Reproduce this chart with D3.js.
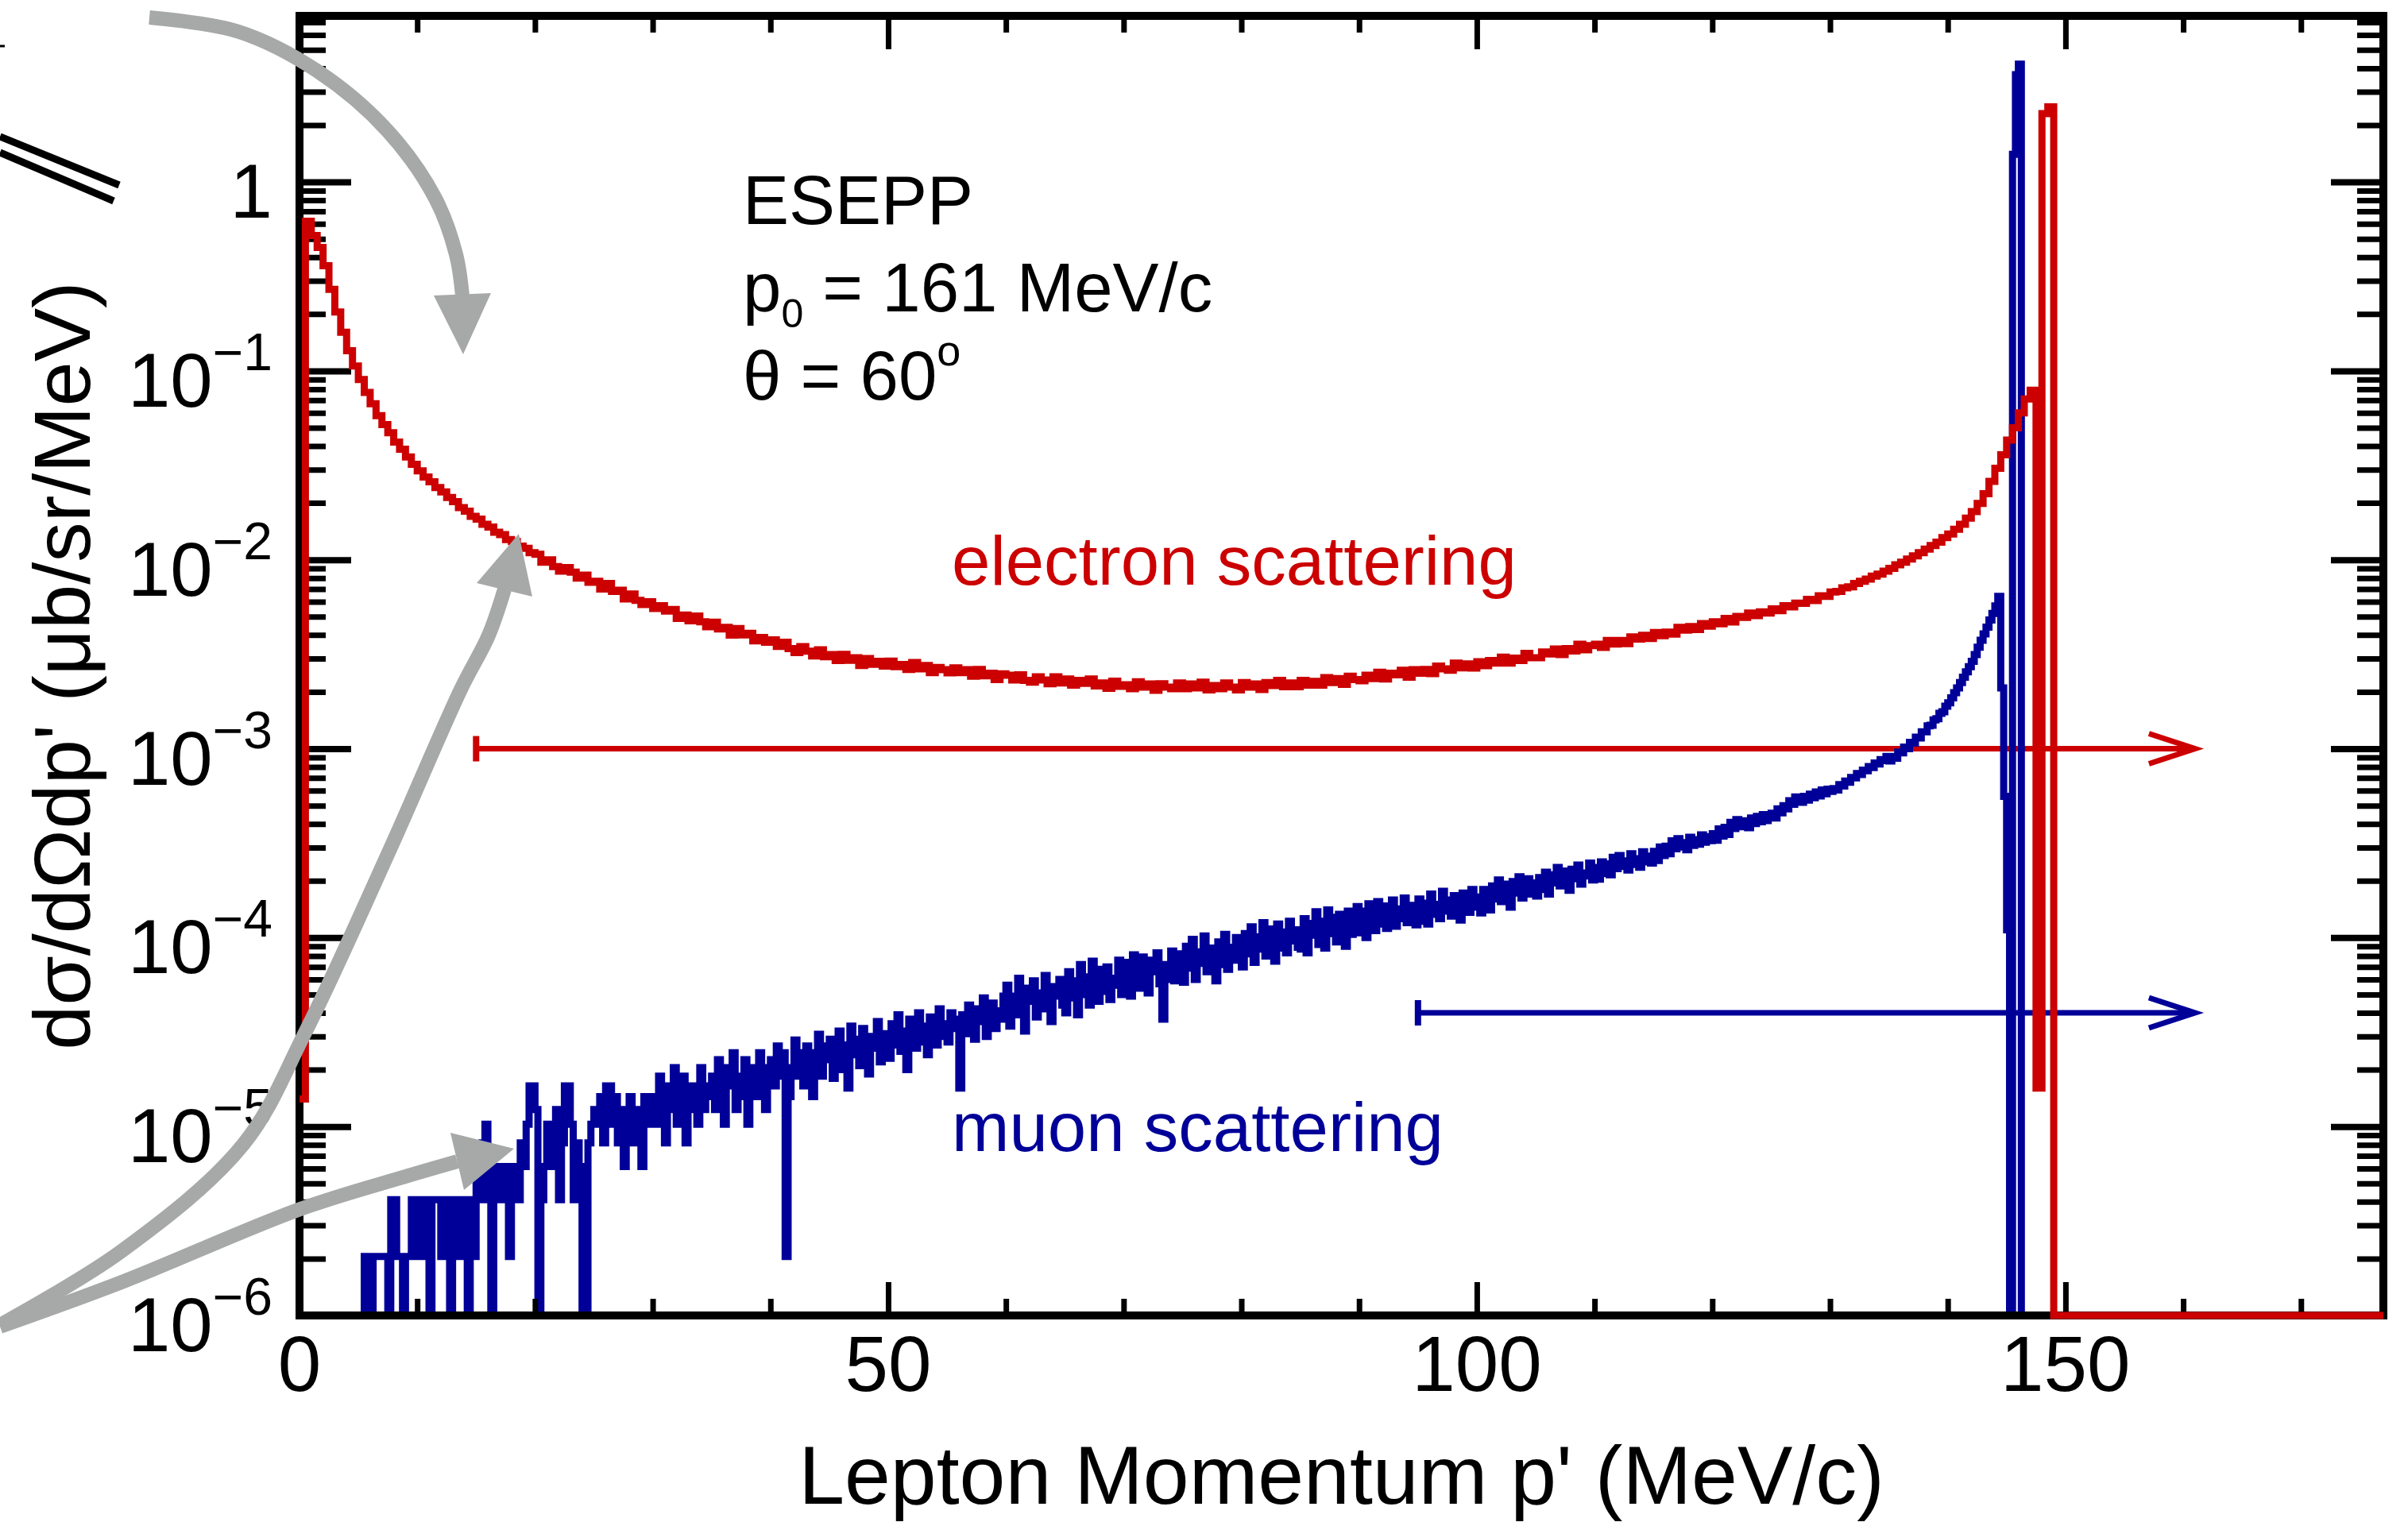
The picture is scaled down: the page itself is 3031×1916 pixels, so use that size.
<!DOCTYPE html>
<html>
<head>
<meta charset="utf-8">
<script src="https://cdnjs.cloudflare.com/ajax/libs/d3/7.8.5/d3.min.js"></script>
<style>
  html, body { margin: 0; padding: 0; background: #ffffff; }
  svg { display: block; }
  text { font-family: "Liberation Sans", Arial, Helvetica, sans-serif; }
</style>
</head>
<body>
<svg id="chart" width="3031" height="1916"></svg>
<script>
// ---- Histogram binning (MeV/c) ----
const binStart = 0;
const electronBinWidth = 0.5;
const muonBinWidth = 0.25;

// dσ/dΩdp' per 0.5 MeV/c bin, electron scattering (μb/sr/MeV)
const electronRate = [
  1.4e-5, 0.62, 0.52, 0.45, 0.36, 0.27, 0.205, 0.16, 0.128, 0.106,
  0.090, 0.077, 0.067, 0.058, 0.052, 0.047, 0.042, 0.0385, 0.035, 0.032,
  0.0296, 0.0274, 0.0259, 0.0241, 0.0229, 0.0214, 0.0203, 0.0189, 0.0181, 0.0170,
  0.0164, 0.0154, 0.0149, 0.0140, 0.0136, 0.0128, 0.0125, 0.0118, 0.0115, 0.0109,
  0.0107, 0.0097, 0.0100, 0.0092, 0.0087, 0.0091, 0.0086, 0.0080, 0.0083, 0.0076,
  0.0077, 0.0070, 0.0075, 0.0068, 0.0069, 0.0062, 0.0066, 0.0061, 0.0058, 0.0060,
  0.00553, 0.00572, 0.00535, 0.00546, 0.0049, 0.0051, 0.00475, 0.00504, 0.0047, 0.00442,
  0.00468, 0.00431, 0.00439, 0.00399, 0.00433, 0.0040, 0.00408, 0.00372, 0.00388, 0.00366,
  0.00377, 0.00348, 0.00366, 0.00339, 0.00323, 0.00347, 0.00328, 0.0031, 0.00334, 0.00307,
  0.00315, 0.00293, 0.00316, 0.00294, 0.00303, 0.00276, 0.0030, 0.0028, 0.0029, 0.00274,
  0.00291, 0.00272, 0.00279, 0.00263, 0.00286, 0.00265, 0.00276, 0.00253, 0.00269, 0.00262,
  0.00252, 0.00268, 0.00253, 0.00262, 0.00242, 0.00263, 0.00243, 0.00251, 0.00232, 0.00249,
  0.00245, 0.00231, 0.00246, 0.0023, 0.00225, 0.0024, 0.00231, 0.00221, 0.0024, 0.00223,
  0.00234, 0.00217, 0.0023, 0.00222, 0.00234, 0.00215, 0.00223, 0.00209, 0.00228, 0.00214,
  0.00218, 0.00208, 0.00226, 0.00212, 0.0022, 0.00204, 0.00221, 0.00212, 0.00208, 0.00223,
  0.00208, 0.0022, 0.0021, 0.00225, 0.00205, 0.00216, 0.00208, 0.00223, 0.00212, 0.00205,
  0.00224, 0.00212, 0.0022, 0.00206, 0.00224, 0.00216, 0.0023, 0.00213, 0.00223, 0.00213,
  0.0023, 0.00217, 0.00227, 0.00217, 0.00238, 0.00224, 0.00235, 0.00219, 0.00242, 0.00232,
  0.00229, 0.00245, 0.00235, 0.00254, 0.00234, 0.00251, 0.00246, 0.0026, 0.00239, 0.00262,
  0.00251, 0.00263, 0.0025, 0.00274, 0.00265, 0.0026, 0.00284, 0.00268, 0.00281, 0.00267,
  0.00289, 0.00275, 0.00293, 0.00284, 0.00305, 0.00284, 0.00302, 0.00293, 0.0032, 0.00303,
  0.00303, 0.00325, 0.00317, 0.00337, 0.00315, 0.00339, 0.00329, 0.00357, 0.00334, 0.00351,
  0.00357, 0.00344, 0.00374, 0.00358, 0.00374, 0.0036, 0.00391, 0.00381, 0.00398, 0.00383,
  0.00412, 0.00397, 0.00414, 0.00404, 0.00439, 0.00424, 0.00443, 0.00427, 0.0046, 0.00445,
  0.0047, 0.00459, 0.0049, 0.00469, 0.00502, 0.00495, 0.00523, 0.00506, 0.0053, 0.00523,
  0.0055, 0.00538, 0.00572, 0.00563, 0.0059, 0.00588, 0.00618, 0.00608, 0.00645, 0.0064,
  0.00675, 0.0068, 0.0071, 0.0072, 0.0075, 0.0077, 0.0079, 0.0082, 0.0084, 0.0087,
  0.0090, 0.0094, 0.0097, 0.0101, 0.0105, 0.0109, 0.0114, 0.0119, 0.0124, 0.0131,
  0.0137, 0.0145, 0.0154, 0.0166, 0.0180, 0.0199, 0.0224, 0.0260, 0.0305, 0.0360,
  0.043, 0.050, 0.060, 0.071, 0.079, 1.6e-5, 2.3, 2.5, 0, 0,
  0, 0, 0, 0, 0, 0, 0, 0, 0, 0,
  0, 0, 0, 0, 0, 0, 0, 0, 0, 0,
  0, 0, 0, 0, 0, 0, 0, 0, 0, 0,
  0, 0, 0, 0, 0, 0, 0, 0, 0, 0,
  0, 0, 0, 0, 0, 0, 0, 0, 0, 0,
  0, 0, 0, 0
];

// dσ/dΩdp' per 0.25 MeV/c bin, muon scattering (μb/sr/MeV); one row = 5 MeV/c
const muonRate = [
  0, 0, 0, 0, 0, 0, 0, 0, 0, 0, 0, 0, 0, 0, 0, 0, 0, 0, 0, 0,
  0, 0, 2.05e-6, 2.05e-6, 0, 2.05e-6, 2.05e-6, 2.05e-6, 2.05e-6, 2.05e-6, 0, 4.1e-6, 4.1e-6, 2.05e-6, 2.05e-6, 0, 2.05e-6, 2.05e-6, 4.1e-6, 2.05e-6,
  2.05e-6, 4.1e-6, 4.1e-6, 2.05e-6, 0, 4.1e-6, 4.1e-6, 4.1e-6, 2.05e-6, 4.1e-6, 2.05e-6, 0, 4.1e-6, 2.05e-6, 4.1e-6, 4.1e-6, 2.05e-6, 0, 4.1e-6, 2.05e-6,
  6.15e-6, 4.1e-6, 8.2e-6, 1.03e-5, 4.1e-6, 0, 6.15e-6, 4.1e-6, 6.15e-6, 4.1e-6, 6.15e-6, 2.05e-6, 4.1e-6, 6.15e-6, 4.1e-6, 8.2e-6, 6.15e-6, 1.03e-5, 1.64e-5, 1.64e-5,
  1.23e-5, 0, 4.1e-6, 6.15e-6, 1.03e-5, 8.2e-6, 6.15e-6, 1.23e-5, 4.1e-6, 8.2e-6, 1.64e-5, 1.64e-5, 1.03e-5, 4.1e-6, 8.2e-6, 6.15e-6, 0, 0, 8.2e-6, 1.03e-5,
  1.23e-5, 1.03e-5, 1.44e-5, 8.2e-6, 1.64e-5, 1.64e-5, 1.03e-5, 1.44e-5, 8.2e-6, 1.23e-5, 6.15e-6, 1.03e-5, 1.44e-5, 8.2e-6, 1.03e-5, 1.23e-5, 6.15e-6, 1.44e-5, 1.03e-5, 1.23e-5,
  1.44e-5, 1.03e-5, 1.85e-5, 1.23e-5, 8.2e-6, 1.64e-5, 1.23e-5, 2.05e-5, 1.03e-5, 1.44e-5, 1.85e-5, 8.2e-6, 1.23e-5, 1.64e-5, 1.44e-5, 1.03e-5, 2.05e-5, 1.23e-5, 1.64e-5, 1.44e-5,
  1.85e-5, 1.23e-5, 2.26e-5, 1.44e-5, 1.03e-5, 2.05e-5, 1.64e-5, 2.46e-5, 1.23e-5, 1.85e-5, 1.44e-5, 2.26e-5, 1.03e-5, 1.64e-5, 2.05e-5, 1.44e-5, 2.46e-5, 1.64e-5, 1.23e-5, 2.05e-5,
  2.26e-5, 1.64e-5, 2.67e-5, 1.85e-5, 2.46e-5, 2.05e-6, 1.44e-5, 2.05e-5, 2.87e-5, 1.85e-5, 2.46e-5, 1.64e-5, 2.67e-5, 2.05e-5, 1.44e-5, 2.46e-5, 3.08e-5, 1.85e-5, 2.26e-5, 2.67e-5,
  2.9e-5, 1.8e-5, 2.6e-5, 3.2e-5, 2.0e-5, 2.7e-5, 1.6e-5, 3.4e-5, 2.4e-5, 2.9e-5, 2.1e-5, 3.3e-5, 2.5e-5, 1.9e-5, 3.0e-5, 2.6e-5, 3.6e-5, 2.2e-5, 2.8e-5, 3.1e-5,
  2.3e-5, 3.5e-5, 2.7e-5, 3.9e-5, 2.5e-5, 3.2e-5, 2.0e-5, 3.7e-5, 3.0e-5, 2.6e-5, 4.0e-5, 2.8e-5, 3.4e-5, 2.4e-5, 3.8e-5, 3.1e-5, 2.7e-5, 4.2e-5, 3.0e-5, 3.5e-5,
  2.8e-5, 4.0e-5, 3.3e-5, 3.7e-5, 1.6e-5, 3.9e-5, 3.1e-5, 4.4e-5, 3.5e-5, 2.9e-5, 4.2e-5, 3.6e-5, 4.8e-5, 3.0e-5, 3.9e-5, 4.5e-5, 3.3e-5, 4.1e-5, 3.7e-5, 4.9e-5,
  5.6e-5, 3.4e-5, 4.9e-5, 3.9e-5, 6.1e-5, 4.4e-5, 3.2e-5, 5.4e-5, 4.6e-5, 5.9e-5, 3.8e-5, 5.1e-5, 4.2e-5, 6.3e-5, 4.7e-5, 3.6e-5, 5.5e-5, 4.9e-5, 6.0e-5, 4.4e-5,
  4.0e-5, 6.6e-5, 4.8e-5, 5.9e-5, 3.9e-5, 7.2e-5, 5.0e-5, 6.2e-5, 4.4e-5, 7.5e-5, 5.4e-5, 4.6e-5, 6.8e-5, 5.2e-5, 7.0e-5, 4.7e-5, 6.1e-5, 5.6e-5, 7.6e-5, 5.0e-5,
  5.3e-5, 7.4e-5, 4.9e-5, 8.1e-5, 6.5e-5, 5.4e-5, 7.9e-5, 6.2e-5, 5.1e-5, 7.6e-5, 6.6e-5, 8.3e-5, 5.7e-5, 3.7e-5, 7.2e-5, 6.0e-5, 8.5e-5, 5.9e-5, 7.0e-5, 8.2e-5,
  5.8e-5, 9.0e-5, 6.9e-5, 9.8e-5, 6.0e-5, 8.4e-5, 7.3e-5, 1.02e-4, 6.6e-5, 8.8e-5, 7.7e-5, 5.9e-5, 9.5e-5, 7.2e-5, 1.04e-4, 6.8e-5, 8.9e-5, 7.6e-5, 1.0e-4, 7.9e-5,
  7.0e-5, 1.05e-4, 8.2e-5, 1.14e-4, 7.4e-5, 1.01e-4, 8.7e-5, 1.2e-4, 8.0e-5, 1.11e-4, 9.3e-5, 7.5e-5, 1.18e-4, 8.8e-5, 1.07e-4, 8.3e-5, 1.22e-4, 9.6e-5, 1.1e-4, 8.9e-5,
  8.7e-5, 1.26e-4, 8.3e-5, 1.19e-4, 1.03e-4, 1.37e-4, 9.2e-5, 1.22e-4, 8.8e-5, 1.40e-4, 1.05e-4, 1.28e-4, 9.5e-5, 1.33e-4, 1.10e-4, 9.0e-5, 1.38e-4, 1.04e-4, 1.25e-4, 1.46e-4,
  1.06e-4, 1.38e-4, 1.00e-4, 1.51e-4, 1.20e-4, 1.09e-4, 1.55e-4, 1.18e-4, 1.47e-4, 1.12e-4, 1.32e-4, 1.58e-4, 1.15e-4, 1.42e-4, 1.26e-4, 1.62e-4, 1.20e-4, 1.48e-4, 1.30e-4, 1.17e-4,
  1.60e-4, 1.22e-4, 1.52e-4, 1.18e-4, 1.70e-4, 1.33e-4, 1.50e-4, 1.26e-4, 1.76e-4, 1.38e-4, 1.58e-4, 1.30e-4, 1.67e-4, 1.42e-4, 1.24e-4, 1.72e-4, 1.48e-4, 1.36e-4, 1.80e-4, 1.45e-4,
  1.64e-4, 1.35e-4, 1.80e-4, 1.47e-4, 1.40e-4, 1.88e-4, 1.60e-4, 2.02e-4, 1.55e-4, 1.92e-4, 1.66e-4, 1.45e-4, 1.98e-4, 1.72e-4, 2.10e-4, 1.62e-4, 1.85e-4, 2.05e-4, 1.70e-4, 1.95e-4,
  1.66e-4, 2.08e-4, 1.80e-4, 2.22e-4, 1.70e-4, 2.15e-4, 1.95e-4, 2.35e-4, 1.88e-4, 2.25e-4, 2.02e-4, 1.78e-4, 2.30e-4, 2.05e-4, 2.42e-4, 1.92e-4, 2.20e-4, 2.12e-4, 2.48e-4, 2.02e-4,
  2.35e-4, 2.04e-4, 2.52e-4, 2.18e-4, 2.46e-4, 2.15e-4, 2.66e-4, 2.32e-4, 2.72e-4, 2.38e-4, 2.55e-4, 2.28e-4, 2.78e-4, 2.44e-4, 2.62e-4, 2.36e-4, 2.85e-4, 2.52e-4, 2.70e-4, 2.48e-4,
  2.86e-4, 2.56e-4, 3.02e-4, 2.72e-4, 3.05e-4, 2.78e-4, 3.25e-4, 2.95e-4, 3.34e-4, 3.02e-4, 3.18e-4, 2.92e-4, 3.40e-4, 3.08e-4, 3.30e-4, 3.12e-4, 3.50e-4, 3.20e-4, 3.42e-4, 3.26e-4,
  3.55e-4, 3.28e-4, 3.76e-4, 3.45e-4, 3.84e-4, 3.52e-4, 4.08e-4, 3.78e-4, 4.22e-4, 3.92e-4, 3.86e-4, 4.15e-4, 3.82e-4, 4.30e-4, 4.02e-4, 4.38e-4, 4.10e-4, 4.48e-4, 4.16e-4, 4.40e-4,
  4.55e-4, 4.30e-4, 4.80e-4, 4.58e-4, 5.00e-4, 4.80e-4, 5.30e-4, 5.08e-4, 5.55e-4, 5.40e-4, 5.20e-4, 5.60e-4, 5.35e-4, 5.75e-4, 5.50e-4, 5.90e-4, 5.62e-4, 6.05e-4, 5.78e-4, 6.10e-4,
  5.95e-4, 6.15e-4, 6.05e-4, 6.45e-4, 6.35e-4, 6.75e-4, 6.65e-4, 7.05e-4, 7.0e-4, 7.4e-4, 7.3e-4, 7.7e-4, 7.65e-4, 8.05e-4, 7.95e-4, 8.4e-4, 8.3e-4, 8.75e-4, 8.65e-4, 9.1e-4,
  8.6e-4, 9.1e-4, 8.9e-4, 9.6e-4, 9.5e-4, 1.02e-3, 1.0e-3, 1.08e-3, 1.07e-3, 1.15e-3, 1.14e-3, 1.23e-3, 1.23e-3, 1.32e-3, 1.33e-3, 1.42e-3, 1.44e-3, 1.54e-3, 1.57e-3, 1.68e-3,
  1.75e-3, 1.86e-3, 1.98e-3, 2.1e-3, 2.24e-3, 2.39e-3, 2.55e-3, 2.72e-3, 2.9e-3, 3.15e-3, 3.45e-3, 3.75e-3, 4.05e-3, 4.4e-3, 4.8e-3, 5.2e-3, 5.7e-3, 6.4e-3, 2.1e-3, 5.6e-4,
  1.1e-4, 0, 1.4, 3.7, 4.2, 0, 0, 0, 0, 0, 0, 0, 0, 0, 0, 0, 0, 0, 0, 0,
  0, 0, 0, 0, 0, 0, 0, 0, 0, 0, 0, 0, 0, 0, 0, 0, 0, 0, 0, 0,
  0, 0, 0, 0, 0, 0, 0, 0, 0, 0, 0, 0, 0, 0, 0, 0, 0, 0, 0, 0,
  0, 0, 0, 0, 0, 0, 0, 0, 0, 0, 0, 0, 0, 0, 0, 0, 0, 0, 0, 0,
  0, 0, 0, 0, 0, 0, 0, 0, 0, 0, 0, 0, 0, 0, 0, 0, 0, 0, 0, 0,
  0, 0, 0, 0, 0, 0, 0, 0, 0, 0, 0, 0, 0, 0, 0, 0, 0, 0, 0, 0,
  0, 0, 0, 0, 0, 0, 0, 0
];

// ---- Axes ----
const xDomain = [0, 177];
const yDomain = [1e-6, 7.57];
const xMajorTicks = [0, 50, 100, 150];
const xMinorTicks = [10, 20, 30, 40, 60, 70, 80, 90, 110, 120, 130, 140, 160, 170];
const yDecadeExponents = [0, -1, -2, -3, -4, -5, -6];
const yMinorMantissas = [2, 3, 4, 5, 6, 7, 8, 9];

// ---- Momentum acceptance ranges (start, end in MeV/c; level in μb/sr/MeV) ----
const rangeStarts = [15, 95];
const rangeEnds = [161, 161];
const rangeLevels = [1e-3, 4e-5];
const rangeColors = ["#cc0000", "#000099"];

// ---- Pointer arrows, points as [MeV/c, μb/sr/MeV] ----
const pointerTop = [[-12.75, 7.43], [-5.2, 6.25], [1.55, 3.85], [7.49, 1.862], [11.54, 0.818], [13.29, 0.415], [13.83, 0.2508]];
const pointerTopHead = [[11.40, 0.2508], [16.26, 0.2583], [13.90, 0.1225]];
const pointerElectron = [[-25.44, 8.9e-7], [-15.12, 2.19e-6], [-4.79, 8.02e-6], [0.47, 3.14e-5], [7.69, 2.94e-4], [13.70, 2.06e-3], [16.06, 3.98e-3], [17.41, 6.98e-3]];
const pointerElectronHead = [[15.05, 7.54e-3], [19.77, 6.39e-3], [18.62, 1.373e-2]];
const pointerMuon = [[-25.44, 8.73e-7], [-15.12, 1.5e-6], [0.07, 3.66e-6], [8.98, 5.44e-6], [13.40, 6.54e-6]];
const pointerMuonHead = [[12.82, 9.27e-6], [13.97, 4.62e-6], [18.22, 7.64e-6]];

const RED = "#cc0000";
const BLUE = "#000099";
const GREY = "#a6a9a7";
const HIST_WIDTH = 9;

const svg = d3.select("#chart");

const x = d3.scaleLinear().domain(xDomain).range([377, 3000]);
const y = d3.scaleLog().domain(yDomain).range([1656, 20]);
const yBottom = y.range()[0];

function histPoints(values, width) {
  const pts = values.map((v, i) => [binStart + i * width, v]);
  pts.push([binStart + values.length * width, values[values.length - 1]]);
  return pts;
}
const stepLine = d3.line()
  .x(d => x(d[0]))
  .y(d => (d[1] > 0 ? y(d[1]) : yBottom))
  .curve(d3.curveStepAfter);

// acceptance range arrows
const ranges = svg.append("g");
rangeStarts.forEach((s, i) => {
  const yy = y(rangeLevels[i]);
  const x0 = x(s), x1 = x(rangeEnds[i]);
  const g = ranges.append("g").attr("stroke", rangeColors[i]).attr("fill", "none");
  g.append("line").attr("x1", x0).attr("x2", x1 - 4).attr("y1", yy).attr("y2", yy).attr("stroke-width", 7);
  g.append("line").attr("x1", x0).attr("x2", x0).attr("y1", yy - 16).attr("y2", yy + 16).attr("stroke-width", 8);
  g.append("path")
    .attr("d", `M${x1 - 58},${yy - 19}L${x1},${yy}L${x1 - 58},${yy + 19}`)
    .attr("stroke-width", 7).attr("stroke-linejoin", "miter").attr("stroke-miterlimit", 10);
});

// muon spectrum
svg.append("path")
  .attr("d", stepLine(histPoints(muonRate, muonBinWidth)))
  .attr("fill", "none").attr("stroke", BLUE).attr("stroke-width", HIST_WIDTH)
  .attr("stroke-linejoin", "miter");

// frame and ticks
const axes = svg.append("g");
function styleAxis(g, w) {
  g.select(".domain").remove();
  g.selectAll("text").remove();
  g.selectAll("line").attr("stroke", "#000").attr("stroke-width", w);
}
const yMajorVals = yDecadeExponents.map(e => Math.pow(10, e));
const yMinorVals = [];
yDecadeExponents.forEach(e => yMinorMantissas.forEach(m => {
  const v = m * Math.pow(10, e);
  if (v <= yDomain[1]) yMinorVals.push(v);
}));
axes.append("g").attr("transform", "translate(377,0)")
  .call(d3.axisLeft(y).tickValues(yMajorVals).tickSize(-65).tickFormat(""))
  .call(g => styleAxis(g, 8));
axes.append("g").attr("transform", "translate(377,0)")
  .call(d3.axisLeft(y).tickValues(yMinorVals).tickSize(-33).tickFormat(""))
  .call(g => styleAxis(g, 7));
axes.append("g").attr("transform", "translate(3000,0)")
  .call(d3.axisRight(y).tickValues(yMajorVals).tickSize(-66).tickFormat(""))
  .call(g => styleAxis(g, 8));
axes.append("g").attr("transform", "translate(3000,0)")
  .call(d3.axisRight(y).tickValues(yMinorVals).tickSize(-33).tickFormat(""))
  .call(g => styleAxis(g, 7));
axes.append("g").attr("transform", "translate(0,1656)")
  .call(d3.axisBottom(x).tickValues(xMajorTicks).tickSize(-42).tickFormat(""))
  .call(g => styleAxis(g, 7));
axes.append("g").attr("transform", "translate(0,1656)")
  .call(d3.axisBottom(x).tickValues(xMinorTicks).tickSize(-21).tickFormat(""))
  .call(g => styleAxis(g, 7));
axes.append("g").attr("transform", "translate(0,20)")
  .call(d3.axisTop(x).tickValues(xMajorTicks).tickSize(-42).tickFormat(""))
  .call(g => styleAxis(g, 7));
axes.append("g").attr("transform", "translate(0,20)")
  .call(d3.axisTop(x).tickValues(xMinorTicks).tickSize(-21).tickFormat(""))
  .call(g => styleAxis(g, 7));
axes.append("rect")
  .attr("x", x(xDomain[0])).attr("y", y(yDomain[1]))
  .attr("width", x(xDomain[1]) - x(xDomain[0]))
  .attr("height", y(yDomain[0]) - y(yDomain[1]))
  .attr("fill", "none").attr("stroke", "#000").attr("stroke-width", 10);

// electron spectrum
svg.append("path")
  .attr("d", stepLine(histPoints(electronRate, electronBinWidth)))
  .attr("fill", "none").attr("stroke", RED).attr("stroke-width", HIST_WIDTH)
  .attr("stroke-linejoin", "miter");

// tick labels
const xl = svg.append("g").attr("font-size", 98).attr("text-anchor", "middle");
xMajorTicks.forEach(v => {
  xl.append("text").attr("x", x(v)).attr("y", 1751).text(v);
});
const yl = svg.append("g").attr("text-anchor", "end");
yDecadeExponents.forEach(e => {
  const t = yl.append("text").attr("x", 343).attr("y", y(Math.pow(10, e)) + 45);
  if (e === 0) {
    t.attr("font-size", 96).text("1");
  } else {
    t.append("tspan").attr("font-size", 96).text("10");
    t.append("tspan").attr("font-size", 66).attr("dy", -46).text("\u2212" + Math.abs(e));
  }
});

// axis titles
svg.append("text")
  .attr("x", (x.range()[0] + x.range()[1]) / 2).attr("y", 1893)
  .attr("text-anchor", "middle").attr("font-size", 104)
  .text("Lepton Momentum p' (MeV/c)");
svg.append("text")
  .attr("transform", `translate(113,${(y.range()[0] + y.range()[1]) / 2}) rotate(-90)`)
  .attr("text-anchor", "middle").attr("font-size", 101)
  .text("d\u03c3/d\u03a9dp' (\u03bcb/sr/MeV)");

// series labels
svg.append("text").attr("x", 1198).attr("y", 736).attr("font-size", 87)
  .attr("fill", RED).text("electron scattering");
svg.append("text").attr("x", 1198).attr("y", 1449).attr("font-size", 87)
  .attr("fill", BLUE).text("muon scattering");

// kinematics note
const note = svg.append("g").attr("font-size", 87);
note.append("text").attr("x", 935).attr("y", 282).text("ESEPP");
const pLine = note.append("text").attr("x", 935).attr("y", 392);
pLine.append("tspan").text("p");
pLine.append("tspan").attr("font-size", 50).attr("dy", 20).text("0");
pLine.append("tspan").attr("dy", -20).text(" = 161 MeV/c");
const tLine = note.append("text").attr("x", 935).attr("y", 503);
tLine.append("tspan").text("\u03b8 = 60");
tLine.append("tspan").attr("font-size", 54).attr("dy", -43).text("o");

// stray marks at the left margin
const marks = svg.append("g").attr("stroke", "#000");
marks.append("line").attr("x1", 0).attr("x2", 6).attr("y1", 58).attr("y2", 58).attr("stroke-width", 3);
marks.append("line").attr("x1", 0).attr("y1", 172).attr("x2", 150).attr("y2", 233).attr("stroke-width", 9);
marks.append("line").attr("x1", 0).attr("y1", 192).attr("x2", 143).attr("y2", 253).attr("stroke-width", 9);

// grey pointer arrows
const pointerLine = d3.line().x(d => x(d[0])).y(d => y(d[1])).curve(d3.curveCatmullRom.alpha(0.5));
const pointers = svg.append("g");
[[pointerTop, pointerTopHead], [pointerElectron, pointerElectronHead], [pointerMuon, pointerMuonHead]].forEach(([shaft, head]) => {
  pointers.append("path").attr("d", pointerLine(shaft))
    .attr("fill", "none").attr("stroke", GREY).attr("stroke-width", 18);
  pointers.append("path")
    .attr("d", "M" + head.map(p => `${x(p[0])},${y(p[1])}`).join("L") + "Z")
    .attr("fill", GREY);
});
</script>
</body>
</html>
